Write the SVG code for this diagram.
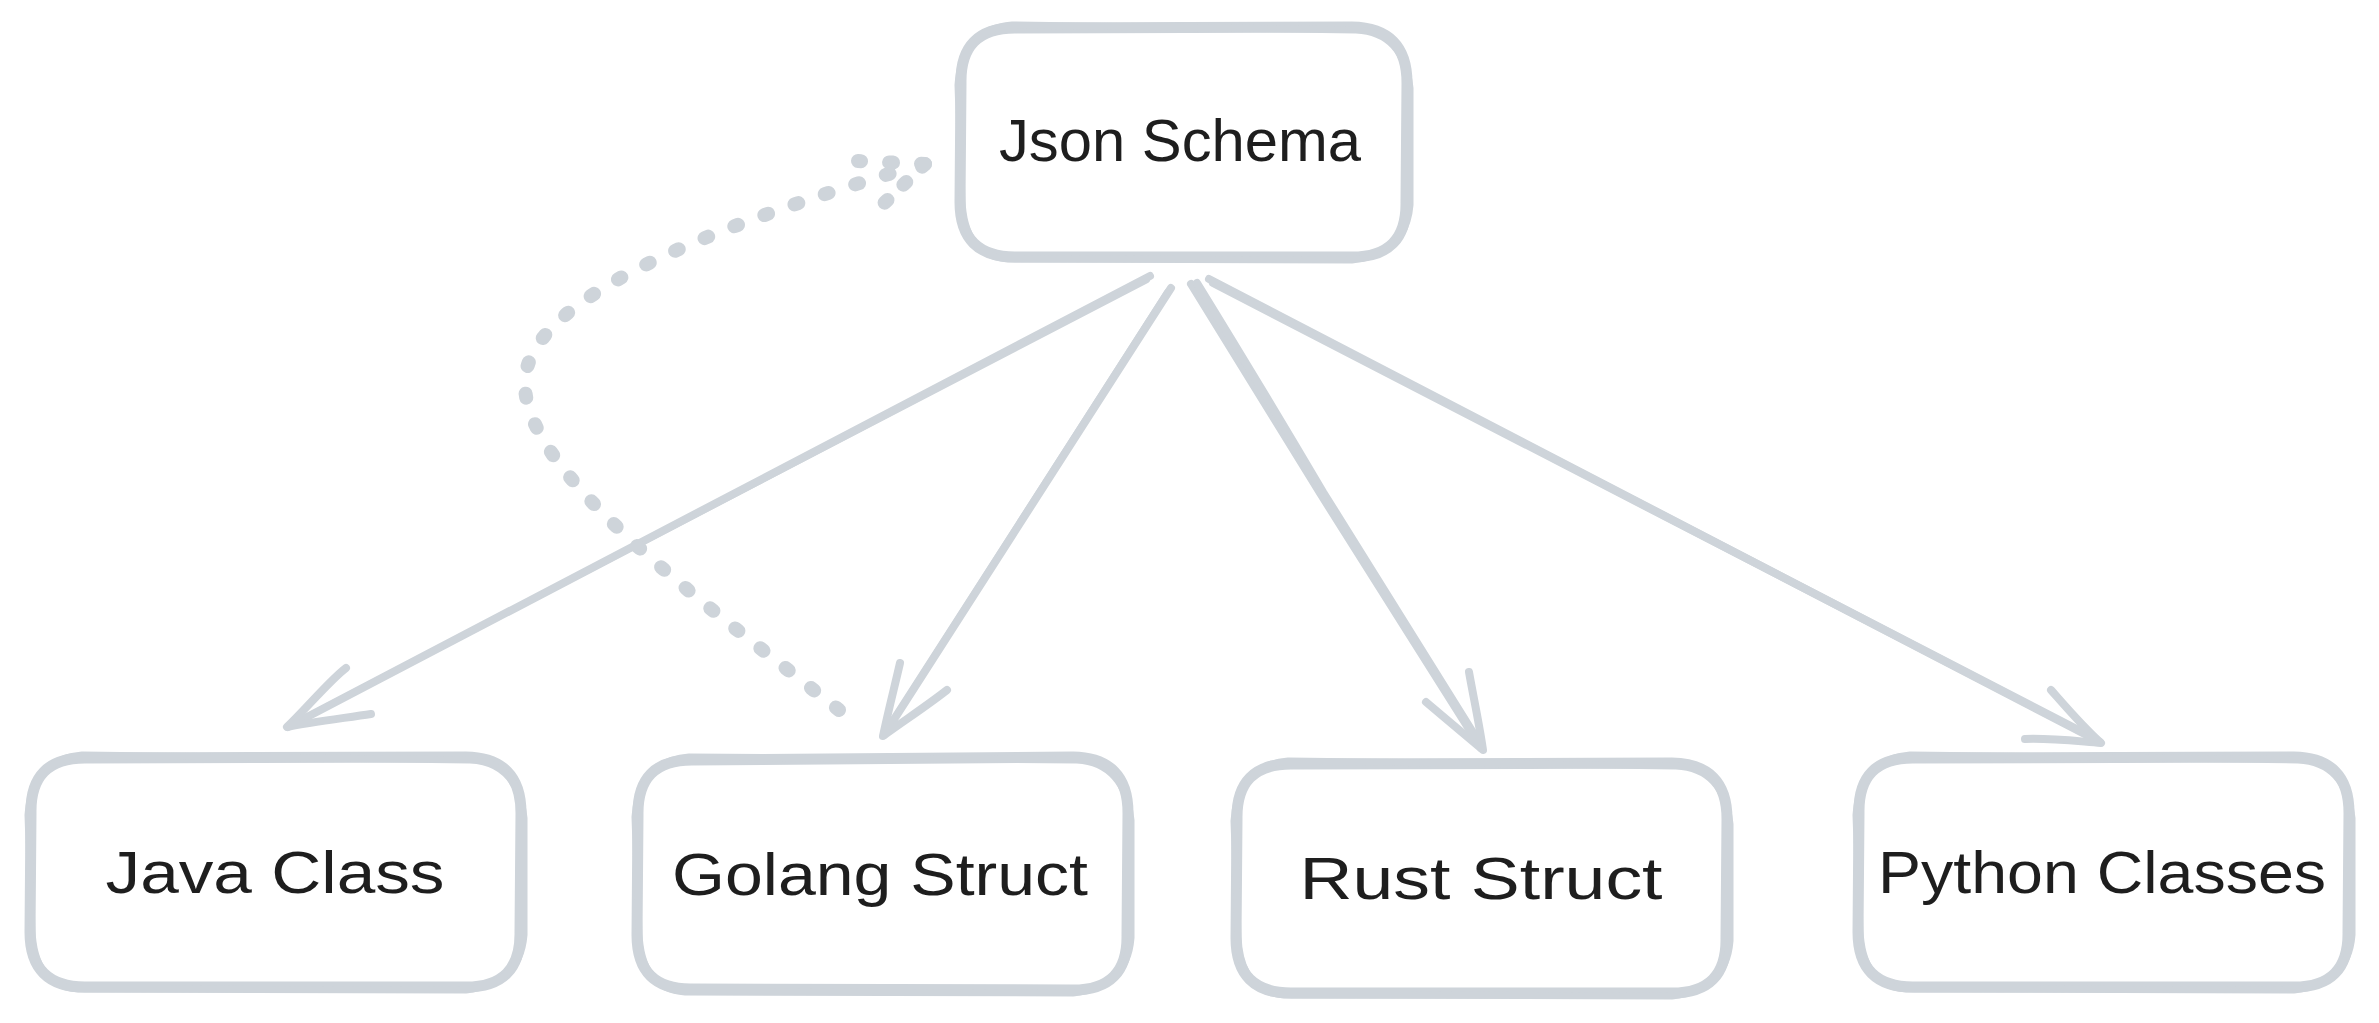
<svg xmlns="http://www.w3.org/2000/svg" width="2379" height="1023" viewBox="0 0 2379 1023">
<style>
.bx{fill:none;stroke:#ced4da;stroke-width:11;stroke-linecap:round;stroke-linejoin:round}
.bx2{fill:none;stroke:#ced4da;stroke-width:7;stroke-linecap:round;stroke-linejoin:round}
.ln{fill:none;stroke:#ced4da;stroke-width:8;stroke-linecap:round;stroke-linejoin:round}
.ln2{fill:none;stroke:#ced4da;stroke-width:6;stroke-linecap:round;stroke-linejoin:round}
.dot{fill:none;stroke:#ced4da;stroke-width:14;stroke-linecap:round;stroke-dasharray:4 28}
.lbl{font-family:"Liberation Sans",Arial,sans-serif;font-size:60px;fill:#1e1e1e;text-anchor:middle}
</style>
<rect width="2379" height="1023" fill="#ffffff"/>
<g id="connectors">
  <!-- Java -->
  <path class="ln" d="M1150,276 L288,727"/>
  <path class="ln2" d="M1147,280 L291,725"/>
  <path class="ln" d="M346,668 C330,680 305,710 287,727 C310,722 345,718 371,714"/>
  <!-- Golang -->
  <path class="ln" d="M1171,288 L884,735"/>
  <path class="ln2" d="M1167,292 L886,731"/>
  <path class="ln" d="M900,663 C895,685 888,712 883,736 C905,720 928,705 947,690"/>
  <!-- Rust -->
  <path class="ln" d="M1191,284 Q1250,380 1320,493 L1481,748"/>
  <path class="ln" d="M1197,283 Q1258,382 1323,492 L1479,742"/>
  <path class="ln" d="M1469,672 C1473,695 1479,722 1483,750 C1465,735 1445,718 1426,702"/>
  <!-- Python -->
  <path class="ln" d="M1209,279 L2100,742"/>
  <path class="ln" d="M1213,283 L2096,739"/>
  <path class="ln" d="M2051,690 C2066,707 2083,727 2101,743 C2075,741 2050,738 2025,739"/>
  <!-- dotted -->
  <path class="dot" d="M839,710 C700,600 520,470 525,380 C530,300 700,230 912,167"/>
  <path class="dot" d="M925,164 L858,161"/>
  <path class="dot" d="M925,164 L877,210" style="stroke-dasharray:4 22"/>
</g>
<g id="node-json">
  <path class="bx" d="M1015,28 L1352,27 Q1407,28 1407,83 L1406,202 Q1407,257 1352,257 L1015,257 Q960,257 960,202 L961,83 Q960,28 1015,28 Z"/>
  <path class="bx2" d="M1012,25 L1356,30 Q1404,32 1410,88 L1410,205 Q1406,254 1352,260 L1008,259 Q964,256 962,200 L958,85 Q962,29 1012,25 Z"/>
  <text class="lbl" x="1180" y="161" textLength="362" lengthAdjust="spacingAndGlyphs">Json Schema</text>
</g>
<g id="node-java">
  <path class="bx" d="M85,758 L466,757 Q521,758 521,813 L520,932 Q521,987 466,987 L85,987 Q30,987 30,932 L31,813 Q30,758 85,758 Z"/>
  <path class="bx2" d="M82,755 L470,760 Q518,762 524,818 L524,935 Q520,984 466,990 L78,989 Q34,986 32,930 L28,815 Q32,759 82,755 Z"/>
  <text class="lbl" x="275" y="893" textLength="339" lengthAdjust="spacingAndGlyphs">Java Class</text>
</g>
<g id="node-golang">
  <path class="bx" d="M692,760 L1073,757 Q1128,758 1128,813 L1127,935 Q1128,990 1073,990 L692,989 Q637,990 637,935 L638,815 Q637,760 692,760 Z"/>
  <path class="bx2" d="M689,757 L1077,760 Q1125,763 1131,820 L1131,938 Q1127,987 1073,993 L685,992 Q641,989 639,933 L635,817 Q639,761 689,757 Z"/>
  <text class="lbl" x="880" y="895" textLength="416" lengthAdjust="spacingAndGlyphs">Golang Struct</text>
</g>
<g id="node-rust">
  <path class="bx" d="M1291,764 L1672,763 Q1727,764 1727,819 L1726,938 Q1727,993 1672,993 L1291,993 Q1236,993 1236,938 L1237,819 Q1236,764 1291,764 Z"/>
  <path class="bx2" d="M1288,761 L1676,766 Q1724,768 1730,824 L1730,941 Q1726,990 1672,996 L1284,995 Q1240,992 1238,936 L1234,821 Q1238,765 1288,761 Z"/>
  <text class="lbl" x="1481" y="899" textLength="363" lengthAdjust="spacingAndGlyphs">Rust Struct</text>
</g>
<g id="node-python">
  <path class="bx" d="M1913,758 L2294,757 Q2349,758 2349,813 L2348,932 Q2349,987 2294,987 L1913,987 Q1858,987 1858,932 L1859,813 Q1858,758 1913,758 Z"/>
  <path class="bx2" d="M1910,755 L2298,760 Q2346,762 2352,818 L2352,935 Q2348,984 2294,990 L1906,989 Q1862,986 1860,930 L1856,815 Q1860,759 1910,755 Z"/>
  <text class="lbl" x="2102" y="893" textLength="448" lengthAdjust="spacingAndGlyphs">Python Classes</text>
</g>
</svg>
